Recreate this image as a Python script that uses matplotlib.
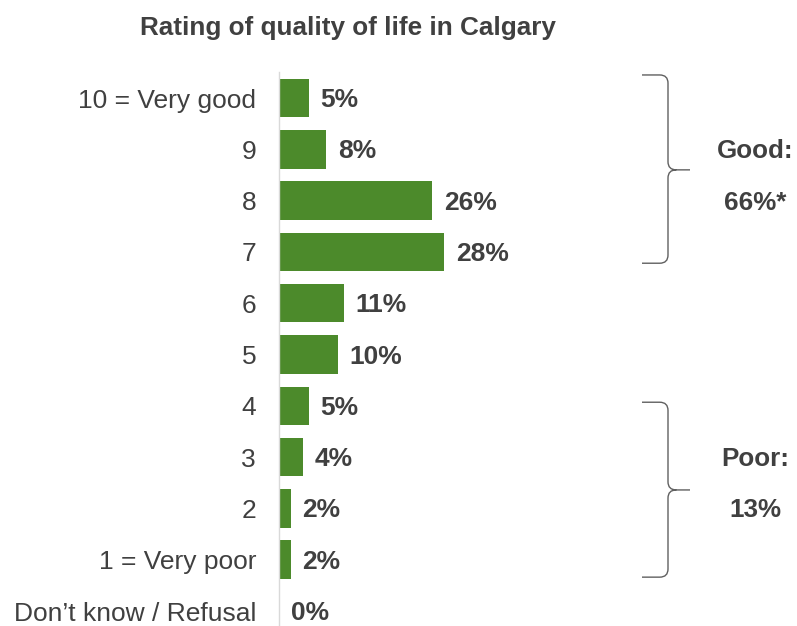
import matplotlib
matplotlib.use("Agg")
import matplotlib.pyplot as plt
from matplotlib.path import Path
from matplotlib.patches import PathPatch

plt.rcParams['font.family'] = ['Liberation Sans', 'DejaVu Sans']

categories = ["10 = Very good", "9", "8", "7", "6", "5", "4", "3", "2",
              "1 = Very poor", "Don\u2019t know / Refusal"]
values = [5, 8, 26, 28, 11, 10, 5, 4, 2, 2, 0]
value_labels = ["5%", "8%", "26%", "28%", "11%", "10%", "5%", "4%", "2%", "2%", "0%"]
title = "Rating of quality of life in Calgary"
groups = [("Good:", "66%*"), ("Poor:", "13%")]

BAR = "#4C8A2B"
TXT = "#404040"

W, H = 797, 626
fig = plt.figure(figsize=(W / 100, H / 100), dpi=100)
ax_left, ax_top = 279, 72.4
ax = fig.add_axes([ax_left / W, 0, 1 - ax_left / W, 1 - ax_top / H])

y = list(range(len(categories)))
ax.barh(y, values, height=0.75, color=BAR)
ax.set_xlim(0, (W - ax_left) / 5.9)
ax.set_ylim((H - 98) / 51.3, -0.5)

ax.set_yticks(y)
ax.set_yticklabels(categories, fontsize=19, color=TXT)
ax.tick_params(axis='y', length=0, pad=16.5)
ax.set_xticks([])
for s in ["top", "right", "bottom"]:
    ax.spines[s].set_visible(False)
ax.spines["left"].set_color("#D9D9D9")
ax.spines["left"].set_linewidth(1.0)

for yi, v, lab in zip(y, values, value_labels):
    ax.annotate(lab, (v, yi), xytext=(8.5, -1.5), textcoords="offset points",
                ha="left", va="center", fontsize=19, fontweight="bold", color=TXT)

fig.text(348 / W, 1 - 28.5 / H, title, ha="center", va="center",
         fontsize=18.8, fontweight="bold", color=TXT)


def brace(x0, xv, xt, yt, yb, ym, rx=1.4, ry=0.16):
    verts = [(x0, yt), (xv - rx, yt), (xv, yt), (xv, yt + ry),
             (xv, ym - ry), (xv, ym), (xv + rx, ym), (xt, ym),
             (xv + rx, ym), (xv, ym), (xv, ym + ry),
             (xv, yb - ry), (xv, yb), (xv - rx, yb), (x0, yb)]
    codes = [Path.MOVETO, Path.LINETO, Path.CURVE3, Path.CURVE3,
             Path.LINETO, Path.CURVE3, Path.CURVE3, Path.LINETO,
             Path.MOVETO, Path.CURVE3, Path.CURVE3,
             Path.LINETO, Path.CURVE3, Path.CURVE3, Path.LINETO]
    ax.add_patch(PathPatch(Path(verts, codes), fill=False, edgecolor="#606060",
                           lw=1.0, clip_on=False))


def px2x(px):
    return (px - ax_left) / 5.9


brace(px2x(642), px2x(668), px2x(690), -0.45, 3.22, 1.40)
brace(px2x(642), px2x(668), px2x(690), 5.93, 9.34, 7.64)

xlab = px2x(755)
for (a, b), (r1, r2) in zip(groups, [(1, 2), (7, 8)]):
    for txt, r in ((a, r1), (b, r2)):
        ax.annotate(txt, (xlab, r), xytext=(0, -1.5), textcoords="offset points",
                    ha="center", va="center", fontsize=18.7,
                    fontweight="bold", color=TXT)

fig.savefig("out.png", dpi=100)
